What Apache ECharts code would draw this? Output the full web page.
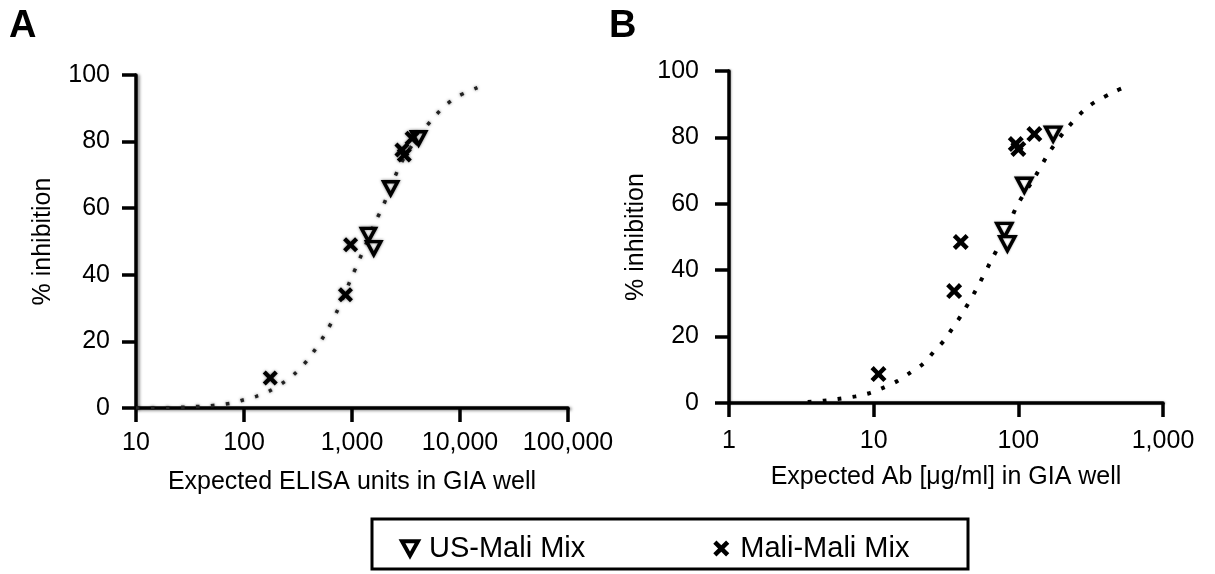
<!DOCTYPE html>
<html>
<head>
<meta charset="utf-8">
<script src="https://cdn.jsdelivr.net/npm/echarts@6/dist/echarts.min.js"></script>
<style>
html,body{margin:0;padding:0;background:#fff;}
#chart{width:1215px;height:574px;}
</style>
</head>
<body>
<div id="chart"></div>
<script>
// ---- Data ----
const seriesNames = ['US-Mali Mix', 'Mali-Mali Mix'];
const yTicks = [0, 20, 40, 60, 80, 100];

// Panel A: Expected ELISA units in GIA well vs % inhibition
const usMaliA_x = [1420, 1590, 2280, 4140];
const usMaliA_y = [52, 48, 66, 81];
const maliA_x = [175, 870, 970, 2900, 3050, 3600];
const maliA_y = [9, 34, 49, 77.5, 76, 81];
const fitA_x = [10, 20, 30, 45, 60, 80, 100, 130, 170, 240, 300, 400, 570, 750, 970, 1150, 1300, 1650, 1900, 2800, 4000, 6000, 7400, 9700, 14500];
const fitA_y = [0, 0.1, 0.3, 0.6, 1, 1.6, 2.5, 3.5, 5, 8, 10.5, 15, 22.5, 30, 38.5, 44, 48, 56, 60, 73, 81, 88, 91, 93.7, 96.2];

// Panel B: Expected Ab [µg/ml] in GIA well vs % inhibition
const usMaliB_x = [80, 84, 110, 174];
const usMaliB_y = [52, 48, 65.6, 81];
const maliB_x = [10.8, 36, 40, 96, 100, 129];
const maliB_y = [8.7, 33.7, 48.5, 78, 76.5, 81];
const fitB_x = [3.5, 4.5, 5.65, 7.5, 9.4, 11.5, 14.6, 18, 21.8, 26, 30.9, 35, 40.4, 51.3, 65.1, 80, 98.4, 129, 164, 218, 309, 474, 590];
const fitB_y = [0.3, 0.7, 1.2, 2, 3, 4.5, 6.6, 9.2, 11.7, 15.4, 19, 22.5, 26.5, 34.3, 43, 50.6, 59.6, 67.8, 75.6, 82.8, 89.5, 94, 95.7];

// ---- Build ----
const zip = (xs, ys) => xs.map((x, i) => [x, ys[i]]);
const FONT = "'Liberation Sans', Arial, Helvetica, sans-serif";
const triSym = 'path://M0,0 L10,0 L5,9 Z';
const xSym = 'path://M2,0 L5,3 L8,0 L10,2 L7,5 L10,8 L8,10 L5,7 L2,10 L0,8 L3,5 L0,2 Z';

function axisStyle(shadow) {
  return {
    show: true,
    lineStyle: Object.assign({ color: '#000', width: 3.5 }, shadow ? { shadowColor: 'rgba(0,0,0,0.45)', shadowBlur: 3, shadowOffsetX: 2, shadowOffsetY: 1 } : { shadowColor: 'rgba(0,0,0,0.25)', shadowBlur: 2, shadowOffsetX: 1 })
  };
}
function tickStyle() {
  return { show: true, length: 14, lineStyle: { color: '#000', width: 3.5 } };
}
const fmt = v => Math.round(v).toLocaleString('en-US');

function xAxis(idx, min, max, name, shadow, margin) {
  return {
    gridIndex: idx, type: 'log', logBase: 10, min: min, max: max,
    name: name, nameLocation: 'middle', nameGap: 62,
    nameTextStyle: { fontFamily: FONT, fontSize: 25, color: '#000' },
    axisLine: axisStyle(shadow), axisTick: tickStyle(),
    axisLabel: { formatter: fmt, fontFamily: FONT, fontSize: 25, color: '#000', margin: margin },
    splitLine: { show: false }, minorTick: { show: false }
  };
}
function yAxis(idx, shadow, margin) {
  return {
    gridIndex: idx, type: 'value', min: yTicks[0], max: yTicks[yTicks.length - 1], interval: 20,
    name: '% inhibition', nameLocation: 'middle', nameGap: 80, nameRotate: 90,
    nameTextStyle: { fontFamily: FONT, fontSize: 25, color: '#000' },
    axisLine: axisStyle(shadow), axisTick: tickStyle(),
    axisLabel: { fontFamily: FONT, fontSize: 25, color: '#000', margin: margin },
    splitLine: { show: false }
  };
}

const blurA = { shadowColor: 'rgba(0,0,0,0.5)', shadowBlur: 3 };

const option = {
  backgroundColor: '#fff',
  animation: false,
  grid: [
    { left: 136, top: 75, width: 432, height: 333 },
    { left: 729, top: 71, width: 434, height: 332 }
  ],
  xAxis: [
    xAxis(0, 10, 100000, 'Expected ELISA units in GIA well', true, 23),
    xAxis(1, 1, 1000, 'Expected Ab [\u03bcg/ml] in GIA well', false, 26)
  ],
  yAxis: [yAxis(0, true, 26), yAxis(1, false, 30)],
  legend: {
    data: [
      { name: seriesNames[0], itemStyle: { color: '#fff', borderColor: '#000', borderWidth: 4, shadowBlur: 0 } },
      { name: seriesNames[1], itemStyle: { color: '#000', shadowBlur: 0 } }
    ],
    left: 395, top: 529,
    itemWidth: 16, itemHeight: 16, itemGap: 128,
    textStyle: { fontFamily: FONT, fontSize: 29, color: '#000', padding: [0, 0, 0, 6] },
    selectedMode: false
  },
  graphic: [
    { type: 'rect', shape: { x: 372, y: 519, width: 596, height: 50 }, style: { fill: 'none', stroke: '#000', lineWidth: 3 } },
    { type: 'text', left: 9, top: 8, style: { text: 'A', font: 'bold 38px ' + FONT, fill: '#000' } },
    { type: 'text', left: 609, top: 8, style: { text: 'B', font: 'bold 38px ' + FONT, fill: '#000' } }
  ],
  series: [
    { name: 'fitA', type: 'line', xAxisIndex: 0, yAxisIndex: 0, data: zip(fitA_x, fitA_y), showSymbol: false, smooth: 0.3,
      lineStyle: Object.assign({ color: '#222', width: 3.5, type: [3.5, 11.5] }, blurA), z: 1 },
    { name: 'US-Mali Mix', type: 'scatter', xAxisIndex: 0, yAxisIndex: 0, data: zip(usMaliA_x, usMaliA_y), symbol: triSym, symbolSize: [14, 13],
      itemStyle: Object.assign({ color: '#fff', borderColor: '#000', borderWidth: 3.5, opacity: 1 }, blurA), z: 3 },
    { name: 'Mali-Mali Mix', type: 'scatter', xAxisIndex: 0, yAxisIndex: 0, data: zip(maliA_x, maliA_y), symbol: xSym, symbolSize: 15,
      itemStyle: Object.assign({ color: '#000', opacity: 1 }, blurA), z: 4 },
    { name: 'fitB', type: 'line', xAxisIndex: 1, yAxisIndex: 1, data: zip(fitB_x, fitB_y), showSymbol: false, smooth: 0.3,
      lineStyle: { color: '#000', width: 4, type: [4, 11] }, z: 1 },
    { name: 'US-Mali Mix', type: 'scatter', xAxisIndex: 1, yAxisIndex: 1, data: zip(usMaliB_x, usMaliB_y), symbol: triSym, symbolSize: [15, 14],
      itemStyle: { color: '#fff', borderColor: '#000', borderWidth: 3.5, opacity: 1, shadowColor: 'rgba(0,0,0,0.4)', shadowBlur: 2 }, z: 3 },
    { name: 'Mali-Mali Mix', type: 'scatter', xAxisIndex: 1, yAxisIndex: 1, data: zip(maliB_x, maliB_y), symbol: xSym, symbolSize: 16,
      itemStyle: { color: '#000', opacity: 1 }, z: 4 }
  ]
};

const chart = echarts.init(document.getElementById('chart'), null, { renderer: 'canvas' });
chart.setOption(option);
</script>
</body>
</html>
